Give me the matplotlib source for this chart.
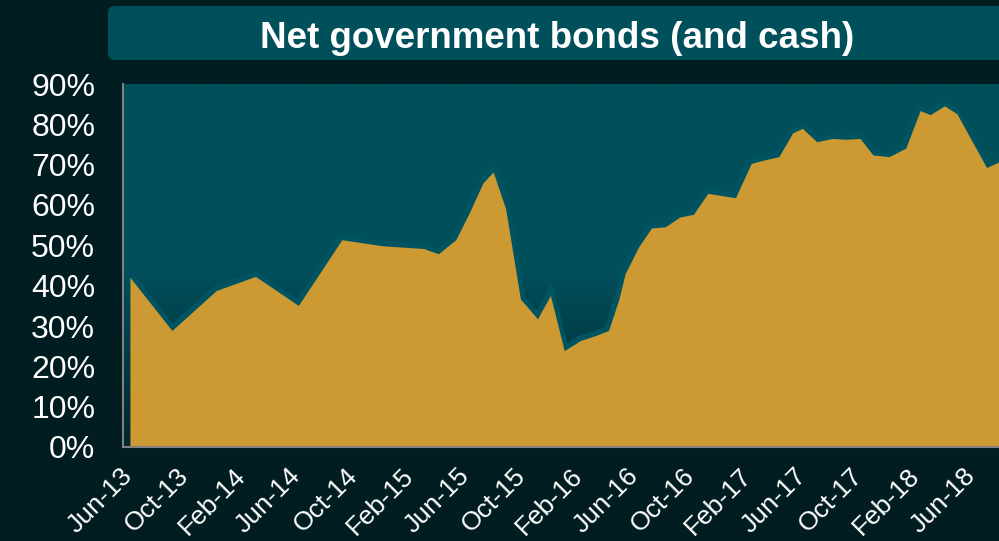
import matplotlib
matplotlib.use('Agg')
import matplotlib.pyplot as plt
import matplotlib.dates as mdates
from matplotlib.colors import LinearSegmentedColormap
from matplotlib.patches import FancyBboxPatch
from matplotlib.transforms import IdentityTransform, ScaledTranslation
import numpy as np
import pandas as pd

# net government bonds (and cash) as % of portfolio
dates = ['2013-06-01', '2013-08-31', '2013-12-05', '2014-02-28', '2014-06-01',
         '2014-09-03', '2014-11-30', '2015-02-28', '2015-03-31', '2015-05-08',
         '2015-06-06', '2015-07-06', '2015-07-28', '2015-08-24', '2015-09-25',
         '2015-11-01', '2015-11-29', '2015-12-29', '2016-02-02', '2016-03-05',
         '2016-04-03', '2016-04-25', '2016-05-09', '2016-06-07', '2016-07-05',
         '2016-08-04', '2016-09-04', '2016-10-04', '2016-11-04', '2017-01-03',
         '2017-02-06', '2017-03-04', '2017-04-07', '2017-05-07', '2017-05-28',
         '2017-06-28', '2017-08-01', '2017-08-30', '2017-09-30', '2017-10-28',
         '2017-12-02', '2018-01-07', '2018-02-07', '2018-03-01', '2018-04-01',
         '2018-04-28', '2018-07-01', '2018-07-28']
net_bonds = [42.1, 28.9, 38.8, 42.3, 35.1, 51.4, 49.9, 49.2, 47.9, 51.4,
             58.0, 65.5, 68.2, 59.1, 36.7, 31.8, 37.6, 23.9, 26.4, 27.6,
             28.9, 36.5, 43.0, 49.6, 54.3, 54.6, 57.0, 57.7, 62.9, 61.8,
             70.3, 71.1, 72.0, 77.9, 79.0, 75.7, 76.5, 76.3, 76.5, 72.4,
             72.0, 74.1, 83.4, 82.4, 84.6, 82.6, 69.3, 70.7]
y_ticks = [0, 10, 20, 30, 40, 50, 60, 70, 80, 90]
title = 'Net government bonds (and cash)'

bg = '#011d21'
teal = '#00505c'
gold = '#cc9933'

plt.rcParams['font.family'] = ['Liberation Sans', 'DejaVu Sans']

fig = plt.figure(figsize=(9.99, 5.41), dpi=100, facecolor=bg)

# title banner, runs off the right edge
banner = FancyBboxPatch((108, 541 - 60), 950, 54,
                        boxstyle='round,pad=0,rounding_size=7',
                        transform=IdentityTransform(),
                        facecolor=teal, edgecolor='none')
fig.add_artist(banner)
fig.text(557 / 999, 1 - 48.5 / 541, title, ha='center', va='baseline',
         fontsize=26.5, fontweight='bold', color='white')

ax = fig.add_axes([123 / 999, 1 - 447 / 541, 1 - 123 / 999, (447 - 84) / 541])

x = mdates.date2num(pd.to_datetime(dates))
x_left = mdates.date2num(pd.Timestamp('2013-05-17'))
x_right = x[-1]

# teal backdrop that darkens towards the bottom
shade = LinearSegmentedColormap.from_list(
    'shade', [(0, '#00262f'), (0.5, teal), (1, teal)])
ax.imshow(np.linspace(0, 1, 256).reshape(-1, 1), cmap=shade, origin='lower',
          aspect='auto', extent=[x_left, x_right, 0, 90], zorder=0)

ax.plot(x, net_bonds, color='#005361', lw=7, solid_joinstyle='miter',
        solid_capstyle='butt', zorder=1)
ax.fill_between(x, 0, net_bonds, color=gold, lw=0, zorder=2)

ax.set_xlim(x_left, x_right)
ax.set_ylim(0, 90)
ax.set_facecolor(teal)
ax.xaxis_date()
ax.xaxis.set_major_locator(mdates.MonthLocator(bymonth=[2, 6, 10]))
ax.xaxis.set_major_formatter(mdates.DateFormatter('%b-%y'))
ax.set_yticks(y_ticks)
ax.set_yticklabels([f'{v}%' for v in y_ticks])

ax.tick_params(axis='y', length=0, pad=20, labelsize=23, labelcolor='white')
ax.tick_params(axis='x', length=0, pad=12, labelsize=19, labelcolor='white')

# slanted date labels, nudged left so they end under their tick
nudge = ScaledTranslation(-7 / 72, 0, fig.dpi_scale_trans)
for lbl in ax.get_xticklabels():
    lbl.set_rotation(45)
    lbl.set_ha('right')
    lbl.set_rotation_mode('anchor')
    lbl.set_transform(lbl.get_transform() + nudge)

for side in ['top', 'right']:
    ax.spines[side].set_visible(False)
for side in ['left', 'bottom']:
    ax.spines[side].set_color('#808080')
    ax.spines[side].set_linewidth(1.5)

fig.savefig('out.png', dpi=100, facecolor=bg)
